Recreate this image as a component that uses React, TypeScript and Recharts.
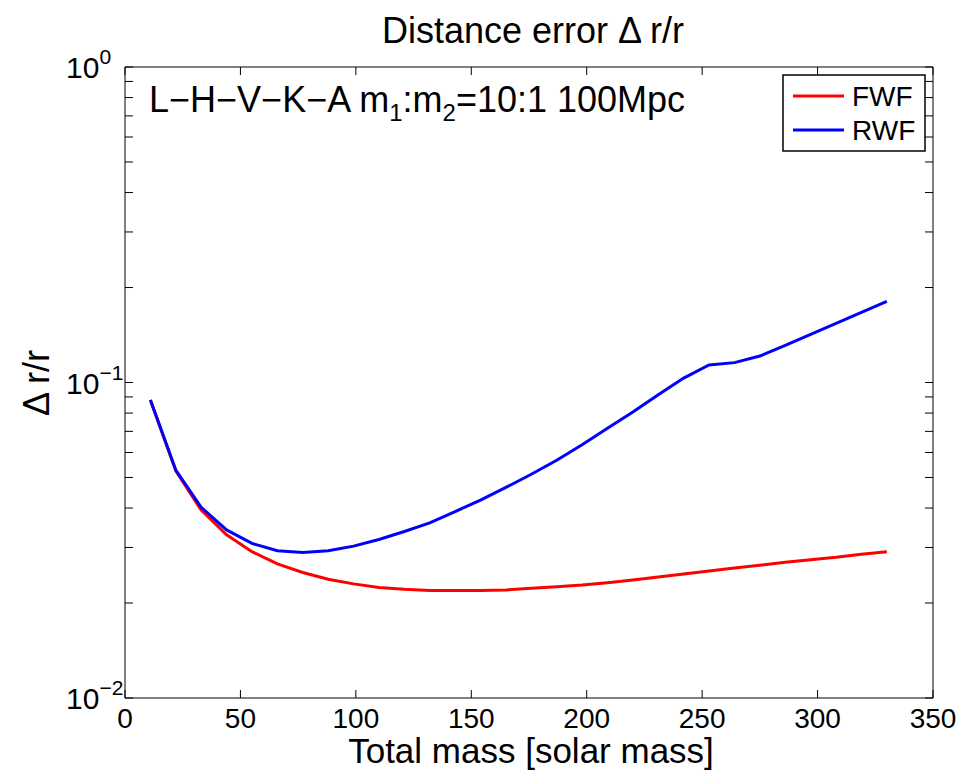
import React from 'react';
import { LineChart, Line, XAxis, YAxis, Customized } from 'recharts';

const masses = [11, 22, 33, 44, 55, 66, 77, 88, 99, 110, 121, 132, 143, 154, 165, 176, 187, 198, 209, 220, 231, 242, 253, 264, 275, 286, 297, 308, 319, 330];
const fwfValues = [0.088, 0.0525, 0.0394, 0.0329, 0.0291, 0.0266, 0.025, 0.0238, 0.023, 0.0224, 0.0221, 0.0219, 0.0219, 0.0219, 0.022, 0.02227, 0.02254, 0.02281, 0.0232, 0.02366, 0.02418, 0.02472, 0.02527, 0.02582, 0.02633, 0.02692, 0.02745, 0.02792, 0.02854, 0.0291];
const rwfValues = [0.088, 0.0528, 0.0402, 0.0341, 0.0309, 0.0293, 0.0289, 0.0293, 0.0303, 0.0318, 0.0337, 0.0359, 0.039, 0.0424, 0.0465, 0.0512, 0.0567, 0.0635, 0.0716, 0.0806, 0.0915, 0.1033, 0.1136, 0.1156, 0.1213, 0.1311, 0.1422, 0.154, 0.1669, 0.1809];

const xTicks = [0, 50, 100, 150, 200, 250, 300, 350];
const yMajorTicks = [0.01, 0.1, 1];
const yMajorExponents = ['\u22122', '\u22121', '0'];
const yMinorTicks = [0.02, 0.03, 0.04, 0.05, 0.06, 0.07, 0.08, 0.09, 0.2, 0.3, 0.4, 0.5, 0.6, 0.7, 0.8, 0.9];
const yAllTicks = [...yMajorTicks, ...yMinorTicks].sort((a, b) => a - b);

const seriesNames = ['FWF', 'RWF'];
const seriesColors = ['#ff0000', '#0000ff'];

const titleText = 'Distance error \u0394 r/r';
const xLabelText = 'Total mass [solar mass]';
const yLabelText = '\u0394 r/r';

const data = masses.map((m, i) => ({ mass: m, FWF: fwfValues[i], RWF: rwfValues[i] }));

const FONT = '"Liberation Sans", Arial, Helvetica, sans-serif';
const TICK_LEN = 8;
const TICK_FONT = 28;

const majorIndex = (v: number) => yMajorTicks.findIndex((t) => Math.abs(t - v) / t < 1e-6);

const LeftYTick = (props: any) => {
  const { x, y, payload } = props;
  const idx = majorIndex(payload.value);
  return (
    <g>
      <line x1={x} x2={x + TICK_LEN} y1={y} y2={y} stroke="#000" strokeWidth={1} />
      {idx >= 0 && (
        <text x={x - 59} y={y + 11} textAnchor="start" fontFamily={FONT} fontSize={30} fill="#000">
          <tspan>10</tspan>
          <tspan dy={-14} fontSize={21}>{yMajorExponents[idx]}</tspan>
        </text>
      )}
    </g>
  );
};

const RightYTick = (props: any) => {
  const { x, y } = props;
  return <line x1={x} x2={x - TICK_LEN} y1={y} y2={y} stroke="#000" strokeWidth={1} />;
};

const BottomXTick = (props: any) => {
  const { x, y, payload } = props;
  return (
    <g>
      <line x1={x} x2={x} y1={y} y2={y - TICK_LEN} stroke="#000" strokeWidth={1} />
      <text x={x} y={y + 30} textAnchor="middle" fontFamily={FONT} fontSize={TICK_FONT} fill="#000">
        {payload.value}
      </text>
    </g>
  );
};

const TopXTick = (props: any) => {
  const { x, y } = props;
  return <line x1={x} x2={x} y1={y} y2={y + TICK_LEN} stroke="#000" strokeWidth={1} />;
};

const Decorations = () => (
  <g fontFamily={FONT} fill="#000">
    <text x={533} y={43} textAnchor="middle" fontSize={36}>{titleText}</text>
    <text x={531} y={763} textAnchor="middle" fontSize={35}>{xLabelText}</text>
    <text x={0} y={0} textAnchor="middle" fontSize={36} transform="translate(49,383) rotate(-90)">{yLabelText}</text>
    <text x={149} y={112} fontSize={36}>
      <tspan>L{'\u2212'}H{'\u2212'}V{'\u2212'}K{'\u2212'}A m</tspan>
      <tspan fontSize={24} dy={9}>1</tspan>
      <tspan dy={-9}>:m</tspan>
      <tspan fontSize={24} dy={9}>2</tspan>
      <tspan dy={-9}>=10:1 100Mpc</tspan>
    </text>
    <g>
      <rect x={783} y={75} width={142} height={76} fill="#fff" stroke="#000" strokeWidth={1.5} />
      {seriesNames.map((name, i) => (
        <g key={name}>
          <line x1={793} x2={844} y1={96 + i * 34} y2={96 + i * 34} stroke={seriesColors[i]} strokeWidth={3} />
          <text x={852} y={106 + i * 34} fontSize={28}>{name}</text>
        </g>
      ))}
    </g>
  </g>
);

export default function App() {
  return (
    <div style={{ position: 'absolute', left: 0, top: 0, width: 960, height: 771, background: '#fff' }}>
      <LineChart width={960} height={771} data={data} margin={{ top: 66, right: 26, bottom: 33, left: 65 }}>
        <XAxis
          xAxisId="bottom"
          dataKey="mass"
          type="number"
          domain={[0, 350]}
          ticks={xTicks}
          interval={0}
          height={40}
          tickSize={0}
          tickMargin={0}
          tickLine={false}
          axisLine={{ stroke: '#000', strokeWidth: 1 }}
          tick={<BottomXTick />}
        />
        <XAxis
          xAxisId="top"
          orientation="top"
          dataKey="mass"
          type="number"
          domain={[0, 350]}
          ticks={xTicks}
          interval={0}
          height={1}
          tickSize={0}
          tickMargin={0}
          tickLine={false}
          axisLine={{ stroke: '#000', strokeWidth: 1 }}
          tick={<TopXTick />}
        />
        <YAxis
          yAxisId="left"
          scale="log"
          type="number"
          domain={[0.01, 1]}
          ticks={yAllTicks}
          interval={0}
          width={60}
          allowDataOverflow
          tickSize={0}
          tickMargin={0}
          tickLine={false}
          axisLine={{ stroke: '#000', strokeWidth: 1 }}
          tick={<LeftYTick />}
        />
        <YAxis
          yAxisId="right"
          orientation="right"
          scale="log"
          type="number"
          domain={[0.01, 1]}
          ticks={yAllTicks}
          interval={0}
          width={1}
          allowDataOverflow
          tickSize={0}
          tickMargin={0}
          tickLine={false}
          axisLine={{ stroke: '#000', strokeWidth: 1 }}
          tick={<RightYTick />}
        />
        <Line
          xAxisId="bottom"
          yAxisId="left"
          type="linear"
          dataKey="FWF"
          stroke={seriesColors[0]}
          strokeWidth={3}
          dot={false}
          isAnimationActive={false}
        />
        <Line
          xAxisId="bottom"
          yAxisId="left"
          type="linear"
          dataKey="RWF"
          stroke={seriesColors[1]}
          strokeWidth={3}
          dot={false}
          isAnimationActive={false}
        />
        <Customized component={<Decorations />} />
      </LineChart>
    </div>
  );
}
